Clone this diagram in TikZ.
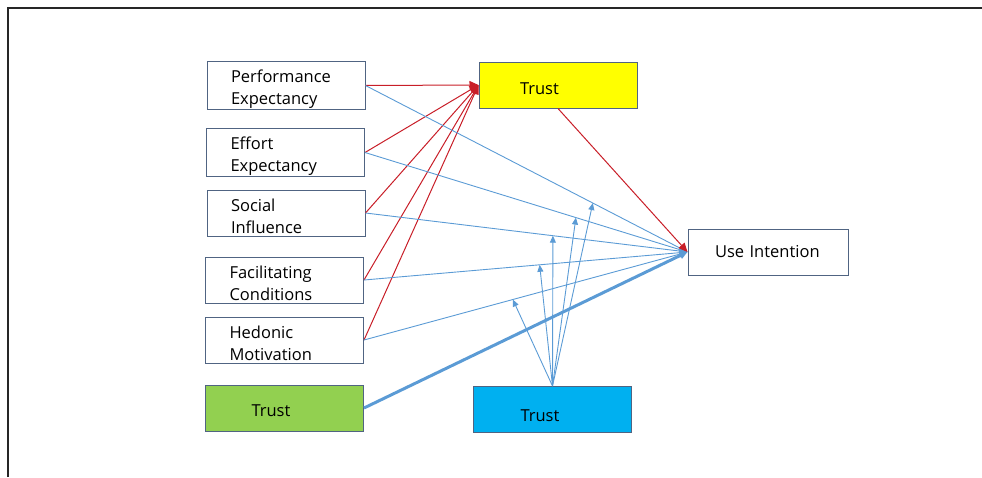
\documentclass[tikz,border=0pt]{standalone}
\usepackage{fontspec}
\setmainfont{Open Sans}
\usetikzlibrary{arrows.meta,calc}

\definecolor{boxline}{RGB}{80,100,130}
\definecolor{redpath}{RGB}{200,30,40}
\definecolor{bluepath}{RGB}{91,155,213}
\definecolor{trustyellow}{RGB}{255,255,0}
\definecolor{trustgreen}{RGB}{146,208,80}
\definecolor{trustcyan}{RGB}{0,176,240}

\begin{document}
\begin{tikzpicture}[x=1pt, y=-1pt,
    var/.style={draw=boxline, line width=1pt, rectangle, minimum width=158pt, minimum height=46pt,
        inner ysep=2pt, inner xsep=24pt, text width=110pt, align=left, text height=19pt,
        font=\fontsize{16.5}{22}\selectfont},
    redarrow/.style={draw=redpath, line width=1pt, -{Triangle[length=9pt,width=8pt]}},
    bluearrow/.style={draw=bluepath, line width=0.9pt, -{Triangle[length=8pt,width=7pt]}},
    modarrow/.style={draw=bluepath, line width=0.9pt, -{Triangle[length=7pt,width=6pt]}}]
    \useasboundingbox (0,0) rectangle (982,477);

    \draw[gray!30!black, line width=1.3pt] (8,477) -- (8,8) -- (982,8);

    \node[var] (pe) at (286,85.5) {Performance\\Expectancy};
    \node[var] (ee) at (285.5,152.5) {Effort\\Expectancy};
    \node[var] (si) at (286,213) {Social\\Influence};
    \node[var] (fc) at (284.5,280) {Facilitating\\Conditions};
    \node[var] (hm) at (284.5,340) {Hedonic\\Motivation};
    \node[var, fill=trustgreen, inner xsep=46pt, text width=66pt, text height=18pt] (gt) at (284.5,408) {Trust};

    \node[var, fill=trustyellow, inner xsep=41pt, text width=76pt, text height=20pt] (yt) at (558,85) {Trust};
    \node[var, fill=trustcyan, inner xsep=47pt, text width=64pt, text height=24pt] (bt) at (552.5,409.5) {Trust};
    \node[var, minimum width=160pt, inner xsep=27pt, text width=106pt, text height=11pt] (ui) at (768,252) {Use Intention};

    \draw[redarrow] (pe.east) -- (yt.west);
    \draw[redarrow] (ee.east) -- (yt.west);
    \draw[redarrow] (si.east) -- (yt.west);
    \draw[redarrow] (fc.east) -- (yt.west);
    \draw[redarrow] (hm.east) -- (yt.west);

    \draw[bluearrow] (pe.east) -- (ui.west);
    \draw[bluearrow] (ee.east) -- (ui.west);
    \draw[bluearrow] (si.east) -- (ui.west);
    \draw[bluearrow] (fc.east) -- (ui.west);
    \draw[bluearrow] (hm.east) -- (ui.west);
    \draw[bluearrow, line width=3pt] (gt.east) -- (ui.west);

    \draw[redarrow] (yt.south) -- (ui.west);

    \coordinate (mpe) at ($(pe.east)!0.706!(ui.west)$);
    \coordinate (mee) at ($(ee.east)!0.654!(ui.west)$);
    \coordinate (msi) at ($(si.east)!0.582!(ui.west)$);
    \coordinate (mfc) at ($(fc.east)!0.543!(ui.west)$);
    \coordinate (mhm) at ($(hm.east)!0.46!(ui.west)$);

    \foreach \m in {mpe,mee,msi,mfc,mhm}
        \draw[modarrow] (bt.north) -- (\m);
\end{tikzpicture}
\end{document}
